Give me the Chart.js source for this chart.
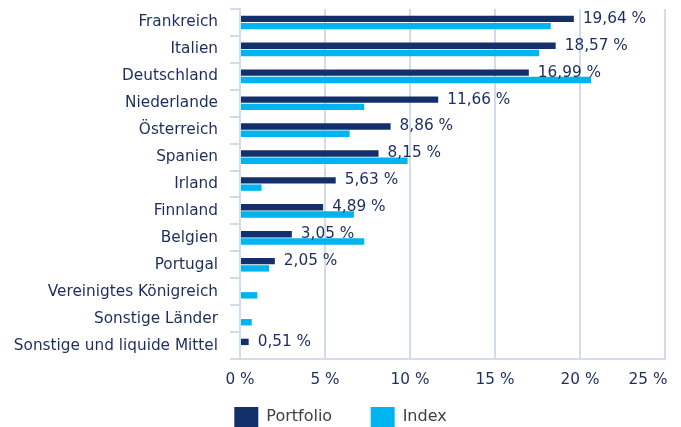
<!DOCTYPE html>
<html>
<head>
<meta charset="utf-8">
<script src="https://cdn.jsdelivr.net/npm/chart.js@4"></script>
<style>
  html, body { margin: 0; padding: 0; overflow: hidden; background: #fff; }
  #wrap { width: 681px; height: 437px; position: relative; }
</style>
</head>
<body>
<div id="wrap"><canvas id="laender"></canvas></div>
<script>
const categories = ['Frankreich', 'Italien', 'Deutschland', 'Niederlande', 'Österreich', 'Spanien', 'Irland',
  'Finnland', 'Belgien', 'Portugal', 'Vereinigtes Königreich', 'Sonstige Länder', 'Sonstige und liquide Mittel'];
const portfolio = [19.64, 18.57, 16.99, 11.66, 8.86, 8.15, 5.63, 4.89, 3.05, 2.05, null, null, 0.51];
const index = [18.28, 17.6, 20.65, 7.31, 6.45, 9.86, 1.27, 6.7, 7.31, 1.71, 1.02, 0.69, null];
const xTicks = [0, 5, 10, 15, 20, 25];

const navy = '#13306a';
const cyan = '#00b4ef';
const textNavy = '#1c2d5e';
const gridCol = '#d3dcea';

Chart.defaults.font.family = "'DejaVu Sans', Verdana, sans-serif";
Chart.defaults.font.size = 15.3;

const fmt = (v) => v.toFixed(2).replace('.', ',') + ' %';

// value labels next to the portfolio bars
const valueLabels = {
  id: 'valueLabels',
  afterDatasetsDraw(chart) {
    const ctx = chart.ctx;
    const meta = chart.getDatasetMeta(0);
    ctx.save();
    ctx.font = "15.3px 'DejaVu Sans', Verdana, sans-serif";
    ctx.fillStyle = textNavy;
    ctx.textAlign = 'left';
    ctx.textBaseline = 'middle';
    meta.data.forEach((bar, i) => {
      const v = portfolio[i];
      if (v == null) return;
      ctx.fillText(fmt(v), bar.x + 9, bar.y);
    });
    ctx.restore();
  }
};

new Chart(document.getElementById('laender'), {
  type: 'bar',
  data: {
    labels: categories,
    datasets: [
      {
        label: 'Portfolio',
        data: portfolio,
        backgroundColor: navy,
        categoryPercentage: 0.54,
        barPercentage: 0.88,
      },
      {
        label: 'Index',
        data: index,
        backgroundColor: cyan,
        categoryPercentage: 0.54,
        barPercentage: 0.88,
      },
    ],
  },
  options: {
    indexAxis: 'y',
    responsive: true,
    maintainAspectRatio: false,
    animation: false,
    layout: { padding: { top: 9, left: 0, right: 0, bottom: 0 } },
    scales: {
      x: {
        min: 0,
        max: 25,
        afterBuildTicks: (s) => { s.ticks = xTicks.map((v) => ({ value: v })); },
        afterFit: (s) => { s.paddingLeft = 0; s.paddingRight = 16; s.height = 40; },
        grid: { color: gridCol, lineWidth: 2, drawTicks: false },
        border: { color: gridCol, width: 2 },
        ticks: {
          color: textNavy,
          padding: 12,
          maxRotation: 0,
          // last label sits left of its gridline, as in the original
          callback: (v) => (v === 25 ? v + ' %' + '       ' : v + ' %'),
        },
      },
      y: {
        afterFit: (s) => { s.width = 240; s.paddingTop = 0; s.paddingBottom = 0; },
        grid: { offset: true, drawOnChartArea: false, tickLength: 10, color: gridCol, lineWidth: 2 },
        border: { color: gridCol, width: 2 },
        ticks: { color: textNavy, padding: 12 },
      },
    },
    plugins: {
      tooltip: { enabled: false },
      legend: {
        position: 'bottom',
        labels: {
          color: '#404040',
          font: { size: 16 },
          boxWidth: 24,
          boxHeight: 20,
          padding: 8,
          generateLabels: (chart) => {
            const items = Chart.defaults.plugins.legend.labels.generateLabels(chart);
            items[0].text = items[0].text + '      ';
            items.forEach((it) => { it.lineWidth = 0; });
            return items;
          },
        },
      },
    },
  },
  plugins: [valueLabels],
});
</script>
</body>
</html>
